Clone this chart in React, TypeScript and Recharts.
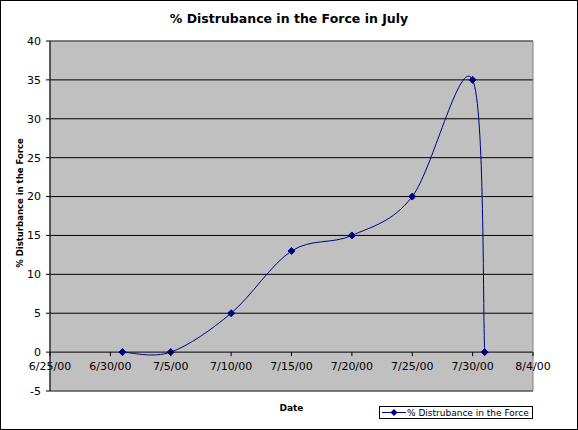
import React from 'react';
import {LineChart, Line, XAxis, YAxis, CartesianGrid, Legend, ReferenceArea} from 'recharts';

// values
const dates = ['2000-07-01', '2000-07-05', '2000-07-10', '2000-07-15', '2000-07-20', '2000-07-25', '2000-07-30', '2000-07-31'];
const disturbance = [0, 0, 5, 13, 15, 20, 35, 0];
const xTickDates = ['2000-06-25', '2000-06-30', '2000-07-05', '2000-07-10', '2000-07-15', '2000-07-20', '2000-07-25', '2000-07-30', '2000-08-04'];
const yTicks = [-5, 0, 5, 10, 15, 20, 25, 30, 35, 40];

const toTime = (s: string) => Date.parse(s + 'T00:00:00Z');
const fmtDate = (t: number) => {
    const d = new Date(t);
    return `${d.getUTCMonth() + 1}/${d.getUTCDate()}/${String(d.getUTCFullYear()).slice(2)}`;
};

const data = dates.map((d, i) => ({date: toTime(d), value: disturbance[i]}));
const xTicks = xTickDates.map(toTime);

const W = 578;
const H = 430;
const margin = {top: 41, right: 45, bottom: 9, left: 10};
const Y_AXIS_W = 40;
const X_AXIS_H = 30;
const PLOT_H = H - margin.top - margin.bottom - X_AXIS_H;
const Y_MIN = -5;
const Y_MAX = 40;
// distance from the bottom of the plot up to the zero line (Excel crosses the date axis at 0)
const ZERO_UP = PLOT_H * (0 - Y_MIN) / (Y_MAX - Y_MIN);

const FONT = '"DejaVu Sans", Verdana, sans-serif';
const NAVY = '#000080';

// Excel style smoothed line: cubic bezier through the points, catmull-rom tangents
const excelSmooth = (context: any) => {
    let pts: number[][] = [];
    return {
        areaStart() {},
        areaEnd() {},
        lineStart() {
            pts = [];
        },
        point(x: number, y: number) {
            pts.push([+x, +y]);
        },
        lineEnd() {
            const n = pts.length;
            if (!n) return;
            context.moveTo(pts[0][0], pts[0][1]);
            for (let i = 0; i < n - 1; i++) {
                const p0 = pts[Math.max(i - 1, 0)];
                const p1 = pts[i];
                const p2 = pts[i + 1];
                const p3 = pts[Math.min(i + 2, n - 1)];
                context.bezierCurveTo(
                    p1[0] + (p2[0] - p0[0]) / 6, p1[1] + (p2[1] - p0[1]) / 6,
                    p2[0] - (p3[0] - p1[0]) / 6, p2[1] - (p3[1] - p1[1]) / 6,
                    p2[0], p2[1],
                );
            }
        },
    };
};

const Diamond = (props: any) => {
    const {cx, cy} = props;
    if (cx == null || cy == null) return null;
    const r = 3.5;
    return <polygon points={`${cx},${cy - r} ${cx + r},${cy} ${cx},${cy + r} ${cx - r},${cy}`} fill={NAVY} stroke={NAVY}/>;
};

const DateTick = (props: any) => {
    const {x, y, payload} = props;
    const y0 = y - ZERO_UP;
    return (
        <g>
            <line x1={x} y1={y0} x2={x} y2={y0 + 4} stroke="#000"/>
            <text x={x} y={y0 + 18} textAnchor="middle" fontSize={11} fontFamily={FONT} fill="#000">
                {fmtDate(payload.value)}
            </text>
        </g>
    );
};

const YTitle = (props: any) => {
    const {viewBox} = props;
    const cx = viewBox.x + 10;
    const cy = viewBox.y + viewBox.height / 2 - 13;
    return (
        <text x={cx} y={cy} transform={`rotate(-90 ${cx} ${cy})`} textAnchor="middle" dominantBaseline="central"
              fontSize={8.5} fontWeight="bold" fontFamily={FONT} fill="#000">
            % Disturbance in the Force
        </text>
    );
};

const LegendBox = (props: any) => {
    const item = (props.payload || [])[0];
    if (!item) return null;
    return (
        <div style={{
            boxSizing: 'border-box', width: 154, height: 13, border: '1px solid #000', background: '#fff',
            display: 'flex', alignItems: 'center', fontFamily: FONT, fontSize: 9, color: '#000', whiteSpace: 'nowrap',
        }}>
            <svg width={27} height={11} style={{flex: 'none'}}>
                <line x1={2} y1={5.5} x2={26} y2={5.5} stroke={item.color}/>
                <polygon points="14,2 17.5,5.5 14,9 10.5,5.5" fill={item.color}/>
            </svg>
            <span>{item.value}</span>
        </div>
    );
};

export default function App() {
    return (
        <div style={{position: 'absolute', left: 0, top: 0, width: W, height: H, boxSizing: 'border-box', border: '1px solid #000', background: '#fff'}}>
            <div style={{position: 'absolute', left: -1, top: -1, width: W, height: H}}>
                <div style={{
                    position: 'absolute', left: 0, top: 11, width: W, textAlign: 'center',
                    fontFamily: FONT, fontWeight: 'bold', fontSize: 12.5, color: '#000', zIndex: 2,
                }}>
                    % Distrubance in the Force in July
                </div>
                <LineChart width={W} height={H} data={data} margin={margin}>
                    <CartesianGrid vertical={false} stroke="#000" fill="#C0C0C0" fillOpacity={1}/>
                    <ReferenceArea x1={xTicks[0]} x2={xTicks[xTicks.length - 1]} y1={Y_MIN} y2={Y_MAX}
                                   fill="none" stroke="#808080" strokeWidth={1}/>
                    <XAxis dataKey="date" type="number" domain={[xTicks[0], xTicks[xTicks.length - 1]]} ticks={xTicks}
                           height={X_AXIS_H} axisLine={false} tickLine={false} tickSize={0} tickMargin={0}
                           tick={<DateTick/>} interval={0}
                           label={{value: 'Date', position: 'insideBottom', offset: 10, fontSize: 9, fontWeight: 'bold', fontFamily: FONT, fill: '#000'}}/>
                    <YAxis type="number" domain={[Y_MIN, Y_MAX]} ticks={yTicks} width={Y_AXIS_W} interval={0}
                           axisLine={{stroke: '#000'}} tickLine={{stroke: '#000'}} tickSize={4} tickMargin={5}
                           tick={{fontSize: 11, fontFamily: FONT, fill: '#000'}}
                           label={<YTitle/>}/>
                    <Line type={excelSmooth as any} dataKey="value" name="% Distrubance in the Force" stroke={NAVY}
                          strokeWidth={1} dot={<Diamond/>} activeDot={false} isAnimationActive={false}/>
                    <Legend verticalAlign="middle" align="center" layout="horizontal" content={<LegendBox/>}
                            wrapperStyle={{left: 379, top: 406, width: 154, height: 13}}/>
                </LineChart>
            </div>
        </div>
    );
}
